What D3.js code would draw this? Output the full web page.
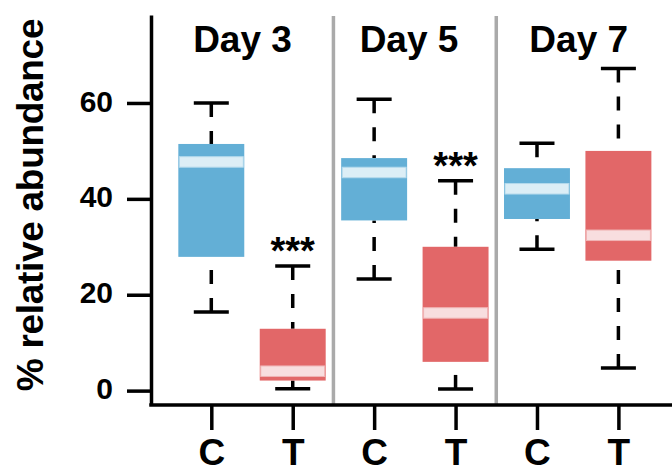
<!DOCTYPE html>
<html>
<head>
<meta charset="utf-8">
<script src="https://cdn.jsdelivr.net/npm/d3@7"></script>
<style>
  html, body { margin: 0; padding: 0; background: #fff; }
  svg { display: block; }
  text { font-family: "Liberation Sans", Arial, Helvetica, sans-serif; font-weight: bold; fill: #000; }
</style>
</head>
<body>
<svg id="chart" width="672" height="470"></svg>
<script>
// ---- data ----
const days = ["Day 3", "Day 5", "Day 7"];
const groups = ["C", "T", "C", "T", "C", "T"];
const lowerWhisker = [16.4, 0.4, 23.3, 0.35, 29.5, 4.7];
const q1 = [27.9, 2.1, 35.5, 6.0, 35.8, 27.1];
const median = [47.7, 4.05, 45.5, 16.2, 42.1, 32.4];
const q3 = [51.45, 12.9, 48.5, 30.0, 46.4, 50.0];
const upperWhisker = [60.0, 26.0, 60.8, 43.8, 51.6, 67.2];
const significance = ["", "***", "", "***", "", ""];
const yTicks = [0, 20, 40, 60];
const yLabel = "% relative abundance";

// ---- layout ----
const mLeft = 151, mRight = 672, mTop = 15, mBottom = 405;
const colors = { C: "#63afd6", T: "#e26768" };
const bandFill = { C: "#dceef6", T: "#f8dedf" };
const bandStroke = { C: "#b3d9ec", T: "#f0b4b5" };
const lw = 3.5;

const svg = d3.select("#chart");

const y = d3.scaleLinear().domain([-3, 78.35]).range([mBottom, mTop]);
const x = d3.scaleLinear().domain([1, 6]).range([211.3, 618.4]);
const unit = x(2) - x(1);
const boxW = 0.81 * unit;
const capW = 0.43 * unit;
const bandH = 10.5;

const data = groups.map((g, i) => ({
  g, i: i + 1,
  lo: lowerWhisker[i], q1: q1[i], med: median[i], q3: q3[i], hi: upperWhisker[i],
  sig: significance[i]
}));

// separators between days
[2.5, 4.5].forEach(p => {
  svg.append("line")
    .attr("x1", x(p)).attr("x2", x(p))
    .attr("y1", mTop + 1).attr("y2", mBottom)
    .attr("stroke", "#aaaaaa").attr("stroke-width", lw);
});

// whiskers (dashed, drawn from whisker end toward box)
const wg = svg.append("g");
data.forEach(d => {
  wg.append("line")
    .attr("x1", x(d.i)).attr("x2", x(d.i))
    .attr("y1", y(d.hi)).attr("y2", y(d.q3))
    .attr("stroke", "#000").attr("stroke-width", lw)
    .attr("stroke-dasharray", "14,14");
  wg.append("line")
    .attr("x1", x(d.i)).attr("x2", x(d.i))
    .attr("y1", y(d.lo)).attr("y2", y(d.q1))
    .attr("stroke", "#000").attr("stroke-width", lw)
    .attr("stroke-dasharray", "14,14");
  [d.hi, d.lo].forEach(v => {
    wg.append("line")
      .attr("x1", x(d.i) - capW / 2).attr("x2", x(d.i) + capW / 2)
      .attr("y1", y(v)).attr("y2", y(v))
      .attr("stroke", "#000").attr("stroke-width", lw);
  });
});

// boxes
svg.append("g").selectAll("rect.box").data(data).join("rect")
  .attr("class", "box")
  .attr("x", d => x(d.i) - boxW / 2)
  .attr("width", boxW)
  .attr("y", d => y(d.q3))
  .attr("height", d => y(d.q1) - y(d.q3))
  .attr("fill", d => colors[d.g]);

// median bands
svg.append("g").selectAll("rect.med").data(data).join("rect")
  .attr("class", "med")
  .attr("x", d => x(d.i) - boxW / 2 + 1)
  .attr("width", boxW - 2)
  .attr("y", d => y(d.med) - bandH / 2)
  .attr("height", bandH)
  .attr("fill", d => bandFill[d.g])
  .attr("stroke", d => bandStroke[d.g])
  .attr("stroke-width", 1);

// significance stars
svg.append("g").selectAll("text.sig").data(data.filter(d => d.sig)).join("text")
  .attr("class", "sig")
  .attr("x", d => x(d.i))
  .attr("y", d => y(d.hi) - 2)
  .attr("text-anchor", "middle")
  .style("font-size", "38px")
  .text(d => d.sig);

// y axis
const yAxis = d3.axisLeft(y).tickValues(yTicks).tickSize(24).tickSizeOuter(0).tickPadding(14);
const ya = svg.append("g").attr("transform", `translate(${mLeft},0)`).call(yAxis);
ya.select(".domain").attr("stroke-width", lw).attr("stroke", "#000");
ya.selectAll(".tick line").attr("stroke-width", lw).attr("stroke", "#000");
ya.selectAll(".tick text").style("font-size", "30px").attr("font-family", null).attr("dy", "0.27em");

// x axis (bottom frame line + ticks)
svg.append("line")
  .attr("x1", mLeft - lw / 2).attr("x2", mRight)
  .attr("y1", mBottom).attr("y2", mBottom)
  .attr("stroke", "#000").attr("stroke-width", lw);
const xAxis = d3.axisBottom(x).tickValues(d3.range(1, groups.length + 1))
  .tickFormat(i => groups[i - 1]).tickSize(25).tickSizeOuter(0).tickPadding(8.5);
const xa = svg.append("g").attr("transform", `translate(0,${mBottom})`).call(xAxis);
xa.select(".domain").remove();
xa.selectAll(".tick line").attr("stroke-width", lw).attr("stroke", "#000");
xa.selectAll(".tick text").style("font-size", "37px").attr("font-family", null);

// day labels
const dayCenters = [242.5, 409, 578.7];
svg.append("g").selectAll("text.day").data(days).join("text")
  .attr("class", "day")
  .attr("x", (d, i) => dayCenters[i])
  .attr("y", 52)
  .attr("text-anchor", "middle")
  .style("font-size", "37px")
  .text(d => d);

// y label
svg.append("text")
  .attr("transform", `translate(43,205) rotate(-90)`)
  .attr("text-anchor", "middle")
  .style("font-size", "37px")
  .style("letter-spacing", "-0.3px")
  .text(yLabel);
</script>
</body>
</html>
